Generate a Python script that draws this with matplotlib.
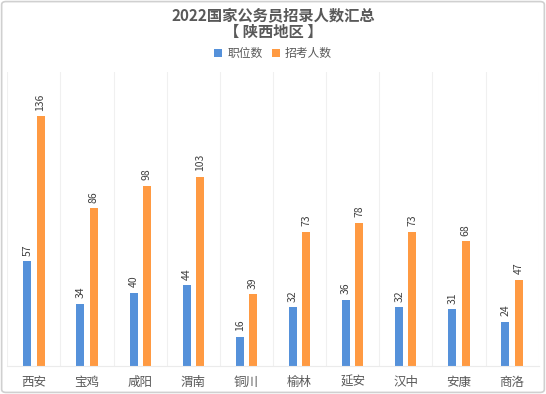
import numpy as np
import matplotlib
matplotlib.use("Agg")
import matplotlib.pyplot as plt
from matplotlib.patches import FancyBboxPatch

plt.rcParams['font.family'] = ['Noto Sans CJK SC', 'DejaVu Sans']

cities = ['西安', '宝鸡', '咸阳', '渭南', '铜川', '榆林', '延安', '汉中', '安康', '商洛']
zhiwei = [57, 34, 40, 44, 16, 32, 36, 32, 31, 24]
zhaokao = [136, 86, 98, 103, 39, 73, 78, 73, 68, 47]
series_names = ['职位数', '招考人数']

blue = '#5591DA'
orange = '#FF9A42'
txt = '#595959'

fig = plt.figure(figsize=(5.46, 3.94), dpi=100)
ax = fig.add_axes([0.0134, 0.071, 0.9732, 0.746])

x = np.arange(len(cities))
w = 0.15
b1 = ax.bar(x - 0.125, zhiwei, w, color=blue, label=series_names[0])
b2 = ax.bar(x + 0.125, zhaokao, w, color=orange, label=series_names[1])

for bars, vals in [(b1, zhiwei), (b2, zhaokao)]:
    for r, v in zip(bars, vals):
        ax.text(r.get_x() + r.get_width() / 2, v + 3, str(v), rotation=90,
                ha='center', va='bottom', fontsize=7.5, color='#404040')

ax.set_xlim(-0.5, len(cities) - 0.5)
ax.set_ylim(0, 160)
ax.set_yticks([])
ax.set_xticks(x)
ax.set_xticklabels(cities, fontsize=9, color=txt)
ax.set_xticks(np.arange(-0.5, len(cities), 1), minor=True)
ax.tick_params(axis='x', which='both', length=0, pad=7)
ax.grid(axis='x', which='minor', color='#F0F0F0', linewidth=0.8)
ax.set_axisbelow(True)
for s in ['top', 'left', 'right']:
    ax.spines[s].set_visible(False)
ax.spines['bottom'].set_color('#EBEBEB')

fig.text(0.5, 0.962, '2022国家公务员招录人数汇总', ha='center', va='center',
         fontsize=11, fontweight='bold', color=txt)
fig.text(0.5, 0.920, '【 陕西地区 】', ha='center', va='center',
         fontsize=11, fontweight='bold', color=txt)

fig.legend(handles=[b1, b2], loc='center', bbox_to_anchor=(0.5, 0.863), ncol=2,
           frameon=False, fontsize=8.5, labelcolor=txt, handlelength=0.7,
           handleheight=0.7, handletextpad=0.4, columnspacing=0.8)

border = FancyBboxPatch((0.003, 0.004), 0.994, 0.992, boxstyle='round,pad=0,rounding_size=0.008',
                        transform=fig.transFigure, fill=False, edgecolor='#D0D0D0', linewidth=1.2)
fig.patches.append(border)

fig.savefig('out.png', dpi=100)
